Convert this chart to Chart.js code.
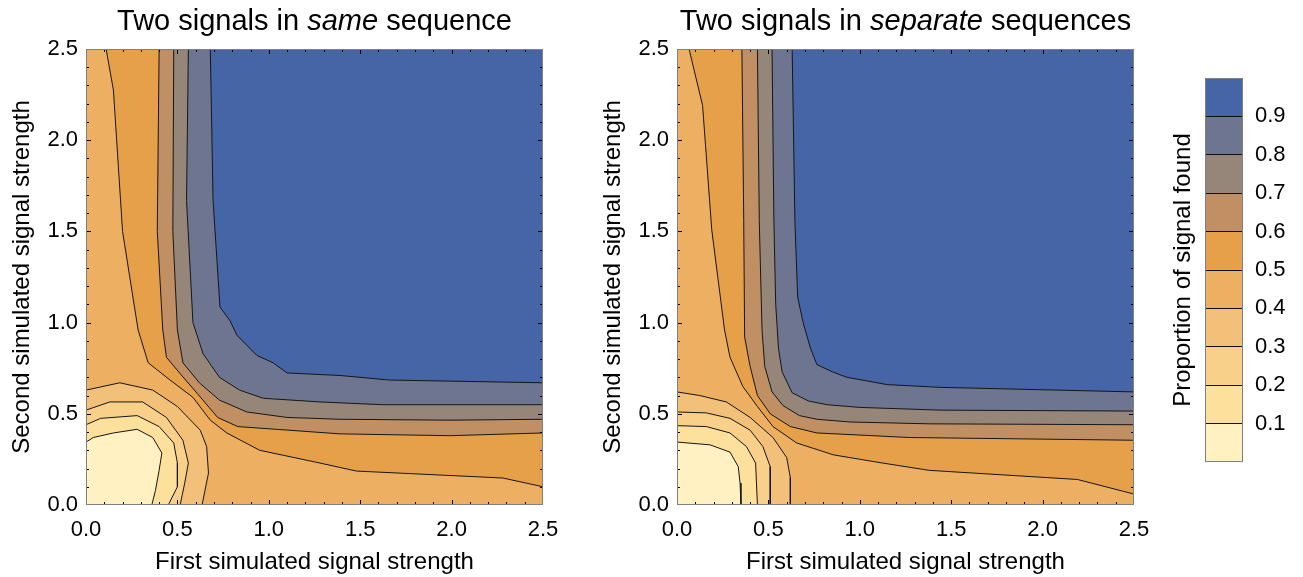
<!DOCTYPE html>
<html>
<head>
<meta charset="utf-8">
<script src="https://cdn.jsdelivr.net/npm/chart.js@4.4.1/dist/chart.umd.min.js"></script>
<style>
  html, body { margin: 0; padding: 0; background: #fff; }
  body { width: 1303px; height: 577px; overflow: hidden; position: relative;
         font-family: "Liberation Sans", Arial, Helvetica, sans-serif; }
  canvas { position: absolute; top: 0; }
  .title { position: absolute; top: 6px; font-size: 29px; line-height: 29px; text-align: center;
           color: #000; white-space: nowrap; z-index: 5; }
</style>
</head>
<body>
<div class="title" style="left:86px;width:457px">Two signals in <i>same</i> sequence</div>
<div class="title" style="left:677px;width:457px">Two signals in <i>separate</i> sequences</div>
<canvas id="p1" width="590" height="577" style="left:0px"></canvas>
<canvas id="p2" width="590" height="577" style="left:591px"></canvas>
<canvas id="cb" width="152" height="577" style="left:1151px"></canvas>
<script>
// ---------------- data ----------------
const levels = [0.1, 0.2, 0.3, 0.4, 0.5, 0.6, 0.7, 0.8, 0.9];
const bandEdges = [0, 0.1, 0.2, 0.3, 0.4, 0.5, 0.6, 0.7, 0.8, 0.9, 1.0];
const bandColors = ['#FFF1C1', '#FEE09D', '#F9D08A', '#F2C078', '#EDB062',
                    '#E7A04A', '#C09064', '#968579', '#6D7590', '#4565A6'];
const axisMin = 0, axisMax = 2.5;
const tickValues = [0, 0.5, 1.0, 1.5, 2.0, 2.5];
const cbTickValues = [0.1, 0.2, 0.3, 0.4, 0.5, 0.6, 0.7, 0.8, 0.9];
const xTitle = 'First simulated signal strength';
const yTitle = 'Second simulated signal strength';
const cbTitle = 'Proportion of signal found';

// contour lines, "same sequence" panel (level 0.1 ... 0.9)
const same01 = [[0,.345],[.04,.37],[.15,.395],[.28,.415],[.365,.37],[.415,.285],[.40,.19],[.38,.08],[.36,0]];
const same02 = [[0,.44],[.08,.475],[.28,.49],[.40,.43],[.48,.34],[.50,.23],[.50,.10],[.45,0]];
const same03 = [[0,.52],[.13,.565],[.31,.565],[.44,.48],[.53,.355],[.56,.23],[.54,.12],[.515,0]];
const same04 = [[0,.63],[.185,.67],[.365,.63],[.50,.54],[.625,.41],[.66,.32],[.67,.175],[.635,0]];
const same05 = [[.11,2.5],[.15,2.275],[.2,1.5],[.285,.96],[.34,.78],[.46,.685],[.585,.59],[.68,.465],[.77,.395],[.95,.30],[1.28,.23],[1.48,.186],[2.28,.148],[2.5,.10]];
const same06 = [[.40,2.5],[.39,1.5],[.42,.96],[.44,.81],[.515,.72],[.61,.61],[.72,.48],[.83,.43],[1.04,.415],[1.39,.39],[1.99,.38],[2.5,.395]];
const same07 = [[.48,2.5],[.475,1.5],[.50,.96],[.53,.78],[.62,.67],[.73,.575],[.88,.51],[1.10,.48],[1.39,.47],[1.99,.465],[2.5,.47]];
const same08 = [[.56,2.5],[.55,1.67],[.585,1.0],[.64,.83],[.73,.70],[.84,.63],[.97,.585],[1.28,.565],[1.62,.55],[2.5,.55]];
const same09 = [[.68,2.5],[.695,1.67],[.733,1.085],[.788,1.01],[.826,.93],[.935,.82],[1.023,.78],[1.10,.724],[1.39,.71],[1.66,.685],[2.5,.67]];

// contour lines, "separate sequences" panel
const sep01 = [[0,.345],[.18,.33],[.29,.29],[.335,.21],[.345,.12],[.35,0]];
const sep02 = [[0,.435],[.16,.43],[.29,.395],[.38,.32],[.43,.23],[.44,0]];
const sep03 = [[0,.51],[.16,.505],[.29,.475],[.40,.41],[.47,.32],[.51,.21],[.51,0]];
const sep04 = [[0,.62],[.125,.60],[.27,.565],[.40,.48],[.525,.37],[.60,.26],[.62,.15],[.62,0]];
const sep05 = [[.066,2.5],[.14,2.19],[.19,1.51],[.26,.96],[.29,.81],[.36,.65],[.44,.54],[.525,.43],[.655,.34],[.855,.275],[1.125,.23],[1.38,.19],[2.19,.14],[2.5,.06]];
const sep06 = [[.355,2.5],[.365,1.56],[.37,.92],[.40,.76],[.44,.60],[.51,.50],[.62,.43],[.765,.395],[1.27,.37],[2.5,.355]];
const sep07 = [[.44,2.5],[.45,1.56],[.465,.96],[.48,.76],[.52,.62],[.58,.545],[.67,.49],[.765,.47],[.95,.455],[1.38,.445],[2.5,.44]];
const sep08 = [[.52,2.5],[.53,1.56],[.54,1.1],[.555,.86],[.575,.73],[.63,.615],[.72,.57],[.82,.55],[1.0,.535],[1.44,.52],[2.5,.515]];
const sep09 = [[.63,2.5],[.645,1.56],[.66,1.14],[.69,1.0],[.73,.86],[.765,.77],[.85,.73],[.93,.70],[1.15,.66],[1.44,.645],[2.5,.62]];

const sameContours = [same01, same02, same03, same04, same05, same06, same07, same08, same09];
const sepContours  = [sep01, sep02, sep03, sep04, sep05, sep06, sep07, sep08, sep09];

// ---------------- rendering ----------------
const FONT = '"Liberation Sans", Arial, Helvetica, sans-serif';
Chart.defaults.font.family = FONT;
Chart.defaults.color = '#000';

const toXY = arr => arr.map(p => ({x: p[0], y: p[1]}));

const framePlugin = {
  id: 'frame',
  beforeDatasetsDraw(chart, args, opts) {
    if (!opts.bg) return;
    const a = chart.chartArea, ctx = chart.ctx;
    ctx.save();
    ctx.fillStyle = opts.bg;
    ctx.fillRect(a.left, a.top, a.right - a.left, a.bottom - a.top);
    ctx.restore();
  },
  afterDraw(chart, args, opts) {
    const a = chart.chartArea, ctx = chart.ctx;
    ctx.save();
    if (opts.ticks) {
      const xs = chart.scales.x, ys = chart.scales.y;
      ctx.strokeStyle = '#000';
      ctx.lineWidth = 1;
      ctx.beginPath();
      for (let k = 1; k < 25; k++) {
        const v = axisMin + k * 0.1;
        const len = (k % 5 === 0) ? 5 : 3;
        const px = Math.round(xs.getPixelForValue(v)) + 0.5;
        ctx.moveTo(px, a.bottom); ctx.lineTo(px, a.bottom - len);
        ctx.moveTo(px, a.top); ctx.lineTo(px, a.top + len);
        const py = Math.round(ys.getPixelForValue(v)) + 0.5;
        ctx.moveTo(a.left, py); ctx.lineTo(a.left + len, py);
        ctx.moveTo(a.right, py); ctx.lineTo(a.right - len, py);
      }
      ctx.stroke();
    }
    ctx.strokeStyle = '#808080';
    ctx.lineWidth = 1;
    ctx.strokeRect(Math.round(a.left) + 0.5, Math.round(a.top) + 0.5,
                   Math.round(a.right - a.left) - 1, Math.round(a.bottom - a.top) - 1);
    ctx.restore();
  }
};

function makePanel(id, contours) {
  const datasets = [];
  let seq = 0;
  const push = d => { d.order = -(seq++); datasets.push(d); };
  const fillDs = (pts, color) => ({
    data: toXY(pts), fill: 'shape', backgroundColor: color,
    borderWidth: 0, borderColor: 'rgba(0,0,0,0)', pointRadius: 0, tension: 0
  });
  // low-value regions around the origin (value < level), outermost first
  for (let k = 3; k >= 0; k--) {
    push(fillDs(contours[k].concat([[axisMin, axisMin]]), bandColors[k]));
  }
  // high-value regions (value >= level), toward upper-right corner
  for (let k = 4; k < levels.length; k++) {
    push(fillDs(contours[k].concat([[axisMax, axisMax]]), bandColors[k + 1]));
  }
  // contour lines
  for (let k = 0; k < levels.length; k++) {
    push({ data: toXY(contours[k]), fill: false, borderColor: '#161616',
           borderWidth: 1, pointRadius: 0, tension: 0 });
  }
  const tickCfg = (pad) => ({ font: {size: 22}, color: '#000', padding: pad, autoSkip: false,
                              maxRotation: 0, callback: v => Number(v).toFixed(1) });
  return new Chart(document.getElementById(id), {
    type: 'line',
    data: { datasets },
    options: {
      responsive: false, animation: false, events: [],
      layout: { padding: { left: 0, right: 47, top: 49, bottom: 0 } },
      plugins: { legend: {display: false}, tooltip: {enabled: false},
                 frame: { bg: bandColors[4], ticks: true } },
      elements: { point: { radius: 0 } },
      scales: {
        x: { type: 'linear', min: axisMin, max: axisMax,
             afterBuildTicks: s => { s.ticks = tickValues.map(v => ({value: v})); },
             ticks: tickCfg(12),
             grid: { display: false, drawTicks: false }, border: { display: false },
             title: { display: true, text: xTitle, font: {size: 24}, color: '#000',
                      padding: {top: 0, bottom: 0} },
             afterFit: s => { s.height = 72; } },
        y: { type: 'linear', min: axisMin, max: axisMax,
             afterBuildTicks: s => { s.ticks = tickValues.map(v => ({value: v})); },
             ticks: tickCfg(8),
             grid: { display: false, drawTicks: false }, border: { display: false },
             title: { display: true, text: yTitle, font: {size: 24}, color: '#000',
                      padding: {top: 8, bottom: 0} },
             afterFit: s => { s.width = 86; } }
      }
    },
    plugins: [framePlugin]
  });
}

makePanel('p1', sameContours);
makePanel('p2', sepContours);

// colour bar
new Chart(document.getElementById('cb'), {
  type: 'bar',
  data: {
    labels: [''],
    datasets: bandColors.map((c, i) => ({
      data: [[bandEdges[i], bandEdges[i + 1]]], backgroundColor: c, borderWidth: 0,
      barPercentage: 1, categoryPercentage: 1, grouped: false, yAxisID: 'y'
    }))
  },
  options: {
    responsive: false, animation: false, events: [],
    layout: { padding: { left: 0, right: 0, top: 78, bottom: 115 } },
    plugins: { legend: {display: false}, tooltip: {enabled: false}, frame: { ticks: false } },
    scales: {
      x: { display: false },
      y: { position: 'right', min: 0, max: 1,
           afterBuildTicks: s => { s.ticks = [0].concat(cbTickValues, [1]).map(v => ({value: v})); },
           ticks: { font: {size: 22}, color: '#000', padding: 12, autoSkip: false,
                    callback: v => (v > 0.05 && v < 0.95) ? Number(v).toFixed(1) : '' },
           grid: { drawTicks: false, drawOnChartArea: true, z: 1, lineWidth: 1,
                   color: c => (c.tick && (c.tick.value <= 0.001 || c.tick.value >= 0.999)) ? 'rgba(0,0,0,0)' : '#111' },
           border: { display: false },
           afterFit: s => { s.width = 60; } },
      yl: { position: 'left', min: 0, max: 1,
            ticks: { display: false }, grid: { display: false, drawTicks: false },
            border: { display: false },
            title: { display: true, text: cbTitle, font: {size: 24}, color: '#000',
                     padding: {top: 18, bottom: 0} },
            afterFit: s => { s.width = 54; } }
    }
  },
  plugins: [framePlugin]
});
</script>
</body>
</html>
